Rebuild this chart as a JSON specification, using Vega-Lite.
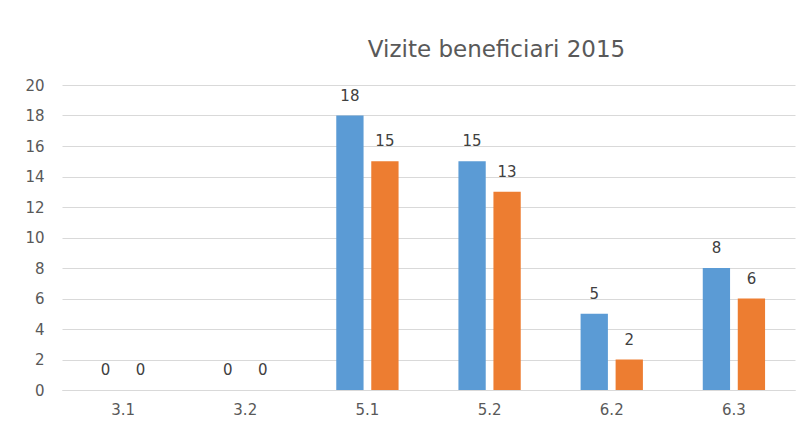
{
  "$schema": "https://vega.github.io/schema/vega-lite/v6.json",
  "width": 733,
  "height": 305,
  "autosize": {"type": "none"},
  "padding": {"left": 62, "top": 85, "right": 9, "bottom": 38},
  "background": "white",
  "title": {
    "text": "Vizite beneficiari 2015",
    "font": "DejaVu Sans",
    "fontSize": 23,
    "fontWeight": "normal",
    "color": "#595959",
    "anchor": "middle",
    "dx": 68,
    "offset": 16
  },
  "data": {
    "values": [
      {"cat": "3.1", "serie": "Seria 1", "val": 0},
      {"cat": "3.1", "serie": "Seria 2", "val": 0},
      {"cat": "3.2", "serie": "Seria 1", "val": 0},
      {"cat": "3.2", "serie": "Seria 2", "val": 0},
      {"cat": "5.1", "serie": "Seria 1", "val": 18},
      {"cat": "5.1", "serie": "Seria 2", "val": 15},
      {"cat": "5.2", "serie": "Seria 1", "val": 15},
      {"cat": "5.2", "serie": "Seria 2", "val": 13},
      {"cat": "6.2", "serie": "Seria 1", "val": 5},
      {"cat": "6.2", "serie": "Seria 2", "val": 2},
      {"cat": "6.3", "serie": "Seria 1", "val": 8},
      {"cat": "6.3", "serie": "Seria 2", "val": 6}
    ]
  },
  "encoding": {
    "x": {
      "field": "cat", "type": "nominal", "sort": null,
      "scale": {"paddingInner": 0.49, "paddingOuter": 0.245},
      "axis": {
        "title": null, "labelAngle": 0, "ticks": false,
        "domainColor": "#d9d9d9", "labelColor": "#595959",
        "labelFont": "DejaVu Sans", "labelFontSize": 15, "labelPadding": 12
      }
    },
    "xOffset": {"field": "serie", "type": "nominal", "scale": {"paddingInner": 0.22}},
    "y": {
      "field": "val", "type": "quantitative",
      "scale": {"domain": [0, 20], "nice": false},
      "axis": {
        "title": null, "values": [0, 2, 4, 6, 8, 10, 12, 14, 16, 18, 20],
        "domain": false, "ticks": false, "gridColor": "#d9d9d9",
        "labelColor": "#595959", "labelFont": "DejaVu Sans",
        "labelFontSize": 15, "labelPadding": 18
      }
    },
    "color": {
      "field": "serie", "type": "nominal",
      "scale": {"range": ["#5B9BD5", "#ED7D31"]},
      "legend": null
    }
  },
  "layer": [
    {"mark": {"type": "bar"}},
    {
      "mark": {"type": "text", "baseline": "bottom", "dy": -12, "font": "DejaVu Sans", "fontSize": 15},
      "encoding": {"text": {"field": "val", "type": "quantitative"}, "color": {"value": "#404040"}}
    }
  ],
  "config": {"view": {"stroke": null}}
}
